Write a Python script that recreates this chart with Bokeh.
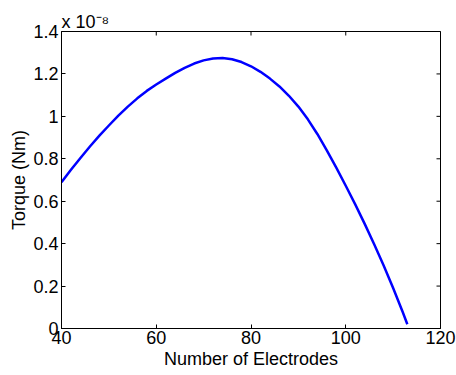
import math
from bokeh.plotting import figure
from bokeh.models import FixedTicker, Range1d, Title
from bokeh.embed import file_html
from bokeh.resources import INLINE

# Data (torque in units of 1e-8 Nm)
electrodes = [40, 42, 44, 46, 48, 50, 52, 54, 56, 58, 60, 62, 64, 66, 68, 70,
              72, 74, 76, 78, 80, 82, 84, 86, 88, 90, 92, 94, 96, 98, 100,
              102, 104, 106, 108, 110, 112, 113]
torque = [0.690, 0.748, 0.804, 0.858, 0.909, 0.957, 1.003, 1.046, 1.085, 1.120,
          1.150, 1.178, 1.205, 1.229, 1.249, 1.264, 1.273, 1.275, 1.269, 1.256,
          1.236, 1.210, 1.178, 1.141, 1.097, 1.046, 0.986, 0.917, 0.840, 0.758,
          0.673, 0.585, 0.493, 0.397, 0.297, 0.191, 0.079, 0.020]

x_min, x_max = 40, 120
y_min, y_max = 0, 1.4
x_ticks = [40, 60, 80, 100, 120]
y_ticks = [0, 0.2, 0.4, 0.6, 0.8, 1, 1.2, 1.4]
y_tick_labels = ["0", "0.2", "0.4", "0.6", "0.8", "1", "1.2", "1.4"]
exponent_text = "x 10\u207b\u2078"

FONT = "Liberation Sans"
FS = "18px"
TICK = 4

p = figure(width=456, height=375, x_range=Range1d(x_min, x_max), y_range=Range1d(y_min, y_max),
           output_backend="svg", toolbar_location=None,
           min_border_left=61, min_border_right=16, min_border_top=31, min_border_bottom=47,
           background_fill_color="white", border_fill_color="white")

p.xgrid.visible = False
p.ygrid.visible = False
p.outline_line_color = "black"
p.outline_line_width = 1

p.line(electrodes, torque, line_color="#0000FF", line_width=2.5, line_join="round")

# tick marks on the top and right edges of the box (clipped to the frame, so half shows)
p.scatter(x_ticks, [y_max] * len(x_ticks), marker="dash", size=2 * TICK,
          angle=math.pi / 2, line_color="black", line_width=1)
p.scatter([x_max] * len(y_ticks), y_ticks, marker="dash", size=2 * TICK,
          line_color="black", line_width=1)

def style(ax, ticks):
    ax.ticker = FixedTicker(ticks=ticks)
    ax.major_tick_in = TICK
    ax.major_tick_out = 0
    ax.minor_tick_in = 0
    ax.minor_tick_out = 0
    ax.axis_line_color = "black"
    ax.major_tick_line_color = "black"
    ax.major_label_text_font = FONT
    ax.major_label_text_font_size = FS
    ax.major_label_text_color = "black"
    ax.axis_label_text_font = FONT
    ax.axis_label_text_font_size = FS
    ax.axis_label_text_font_style = "normal"
    ax.axis_label_text_color = "black"

xa = p.xaxis[0]
style(xa, x_ticks)
xa.axis_label = "Number of Electrodes"
xa.major_label_standoff = 2
xa.axis_label_standoff = 2

ya = p.yaxis[0]
style(ya, y_ticks)
ya.axis_label = "Torque (Nm)"
ya.major_label_standoff = 3
ya.axis_label_standoff = 1
ya.major_label_overrides = {t: s for t, s in zip(y_ticks, y_tick_labels)}

p.add_layout(Title(text=exponent_text, align="left", text_font=FONT, text_font_size=FS,
                   text_font_style="normal", text_color="black", standoff=0, offset=0),
             "above")

open("out.html", "w").write(file_html(p, INLINE))
